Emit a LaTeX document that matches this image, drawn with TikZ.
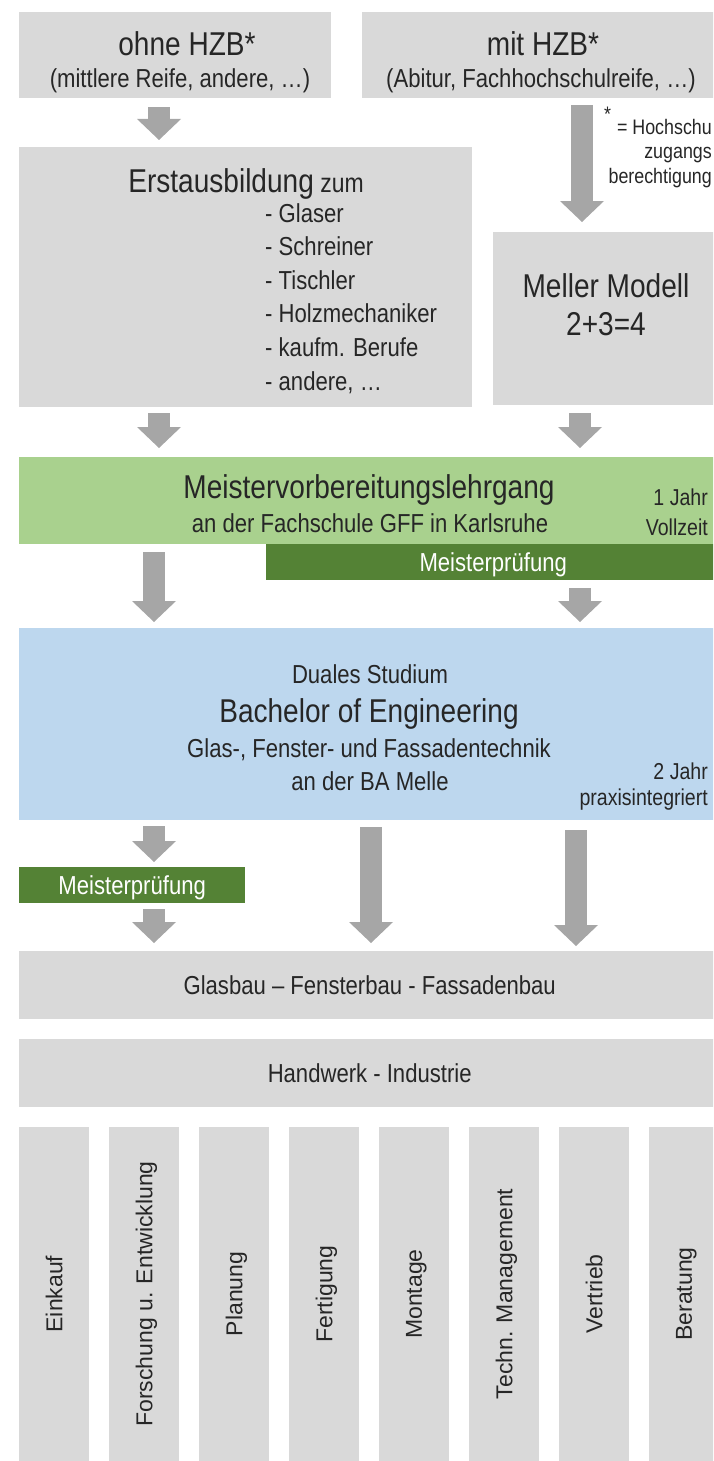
\documentclass[tikz,border=0pt]{standalone}
\usepackage{fontspec}
\usepackage{tikz}
\usetikzlibrary{arrows.meta}
\newfontfamily\condfont[FakeStretch=0.85]{Liberation Sans}
\newfontfamily\plainfont{Liberation Sans}
\definecolor{grau}{HTML}{D9D9D9}
\definecolor{pfeilgrau}{HTML}{A6A6A6}
\definecolor{gruen}{HTML}{A9D18E}
\definecolor{dunkelgruen}{HTML}{548235}
\definecolor{hellblau}{HTML}{BDD7EE}
\definecolor{schrift}{HTML}{262626}

\begin{document}
\begin{tikzpicture}
[%%%%%%%%%%%%%%%%%%%%%%%%%%%%%%
x=1pt,y=-1pt,
box/.style={rectangle,fill=grau,anchor=north west,inner sep=0pt,text depth=0pt,text=schrift,font=\condfont\fontsize{26}{31}\selectfont},
pfeil/.style={line width=22pt,draw=pfeilgrau,-{Triangle[width=44pt,length=21pt,line width=0pt]}},
gross/.style={anchor=base,inner sep=0pt,text=schrift,font=\condfont\fontsize{33}{38}\selectfont},
mittel/.style={anchor=base,inner sep=0pt,text=schrift,font=\condfont\fontsize{26}{33.6}\selectfont},
klein/.style={anchor=base east,inner sep=0pt,text=schrift,font=\condfont\fontsize{23}{28}\selectfont},
senkrecht/.style={box,anchor=center,rotate=90,minimum width=334pt,minimum height=70pt,font=\plainfont\fontsize{23}{27}\selectfont},
]%%%%%%%%%%%%%%%%%%%%%%%%%%%%%%
\useasboundingbox (0,0) rectangle (713,1461);
\clip (0,0) rectangle (713,1461);

% Zugang
\node[box,minimum width=312pt,minimum height=86pt] (ohne) at (19,12) {};
\node[box,minimum width=358pt,minimum height=86pt] (mit) at (362,12) {};
\node[gross] at (187,56) {ohne HZB*};
\node[mittel] at (180,88) {(mittlere Reife, andere, …)};
\node[gross] at (543,56) {mit HZB*};
\node[mittel] at (541,88) {(Abitur, Fachhochschulreife, …)};
\node[anchor=base west,inner sep=0pt,text=schrift,font=\condfont\fontsize{21}{24}\selectfont] at (604,122) {*};
\node[anchor=north east,align=right,inner sep=0pt,text=schrift,font=\condfont\fontsize{21}{24.5}\selectfont] at (712,119) {= Hochschu\\zugangs\\berechtigung};

% Ausbildung
\node[box,minimum width=453pt,minimum height=260pt] (erst) at (19,147) {};
\node[gross] at (246,192) {Erstausbildung{\fontsize{27}{32}\selectfont\ zum}};
\node[mittel,anchor=north west,align=left] at (265,203) {- Glaser\\- Schreiner\\- Tischler\\- Holzmechaniker\\- kaufm. Berufe\\- andere, …};
\node[box,minimum width=227pt,minimum height=173pt] (meller) at (493,232) {};
\node[gross] at (606,297) {Meller Modell};
\node[gross] at (606,335) {2+3=4};

% Meister
\node[box,fill=gruen,minimum width=701pt,minimum height=87pt] (lehrgang) at (19,457) {};
\node[gross] at (369,498) {Meistervorbereitungslehrgang};
\node[mittel] at (370,532) {an der Fachschule GFF in Karlsruhe};
\node[klein] at (708,505) {1 Jahr};
\node[klein] at (708,535) {Vollzeit};
\node[box,fill=dunkelgruen,text=white,minimum width=454pt,minimum height=36pt] (pruefungA) at (266,544) {Meisterprüfung};

% Studium
\node[box,fill=hellblau,minimum width=701pt,minimum height=192pt] (studium) at (19,628) {};
\node[mittel] at (370,683) {Duales Studium};
\node[gross] at (369,722) {Bachelor of Engineering};
\node[mittel] at (369,757) {Glas-, Fenster- und Fassadentechnik};
\node[mittel] at (370,790) {an der BA Melle};
\node[klein] at (708,779) {2 Jahr};
\node[klein] at (708,805) {praxisintegriert};
\node[box,fill=dunkelgruen,text=white,minimum width=226pt,minimum height=36pt] (pruefungB) at (19,867) {Meisterprüfung};

% Beruf
\node[box,minimum width=701pt,minimum height=68pt] (glasbau) at (19,951) {Glasbau – Fensterbau - Fassadenbau};
\node[box,minimum width=701pt,minimum height=68pt] (handwerk) at (19,1039) {Handwerk - Industrie};
\foreach \t [count=\i from 0] in {Einkauf,Forschung u. Entwicklung,Planung,Fertigung,Montage,Techn. Management,Vertrieb,Beratung}
\node[senkrecht] (feld\i) at (54+90*\i,1294) {\t};

% Pfeile
\coordinate (s1) at (159,0);
\coordinate (s2) at (582,0);
\coordinate (s3) at (580,0);
\coordinate (s4) at (154,0);
\coordinate (s5) at (371,0);
\coordinate (s6) at (576,0);
\foreach \von/\nach/\sp/\a/\b in {ohne/erst/s1/9/7,mit/meller/s2/7/10,erst/lehrgang/s1/6/9,meller/lehrgang/s3/8/9,lehrgang/studium/s4/8/6,pruefungA/studium/s3/8/6,studium/pruefungB/s4/6/5,pruefungB/glasbau/s4/6/8,studium/glasbau/s5/7/8,studium/glasbau/s6/10/5}
\draw[pfeil,shorten <=\a pt,shorten >=\b pt] (\von.south -| \sp) -- (\nach.north -| \sp);
\end{tikzpicture}
\end{document}
